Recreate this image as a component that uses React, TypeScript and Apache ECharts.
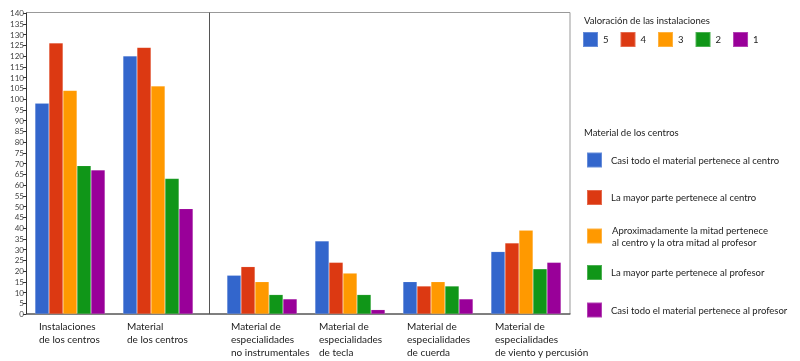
import React, { useEffect, useRef } from "react";
import * as echarts from "echarts";

// ---- Data ----
const centrosCategories = ["Instalaciones\nde los centros", "Material\nde los centros"];
const especialidadesCategories = [
  "Material de\nespecialidades\nno instrumentales",
  "Material de\nespecialidades\nde tecla",
  "Material de\nespecialidades\nde cuerda",
  "Material de\nespecialidades\nde viento y percusión",
];
const valoracionNames = ["5", "4", "3", "2", "1"];
const valoracion5 = [98, 120];
const valoracion4 = [126, 124];
const valoracion3 = [104, 106];
const valoracion2 = [69, 63];
const valoracion1 = [67, 49];

const materialNames = [
  "Casi todo el material pertenece al centro",
  "La mayor parte pertenece al centro",
  "Aproximadamente la mitad pertenece al centro y la otra mitad al profesor",
  "La mayor parte pertenece al profesor",
  "Casi todo el material pertenece al profesor",
];
const materialCasiTodoCentro = [18, 34, 15, 29];
const materialMayorCentro = [22, 24, 13, 33];
const materialMitad = [15, 19, 15, 39];
const materialMayorProfesor = [9, 9, 13, 21];
const materialCasiTodoProfesor = [7, 2, 7, 24];

const yTicks = { min: 0, max: 140, interval: 5 };
const legendTitles = ["Valoración de las instalaciones", "Material de los centros"];

const colors = ["#3366CC", "#DC3912", "#FF9900", "#109618", "#990099"];
const FONT = "Lato";
const FS = 9.5;

export default function App() {
  const ref = useRef<HTMLDivElement>(null);
  useEffect(() => {
    if (!ref.current) return;
    const chart = echarts.init(ref.current, null, { renderer: "svg" });
    const valoracionData = [valoracion5, valoracion4, valoracion3, valoracion2, valoracion1];
    const materialData = [
      materialCasiTodoCentro,
      materialMayorCentro,
      materialMitad,
      materialMayorProfesor,
      materialCasiTodoProfesor,
    ];
    const labelFormatter = (v: string) =>
      v
        .split("\n")
        .map((l) => `{l|${l}}`)
        .join("\n");
    const xLabel = {
      color: "#222",
      fontFamily: FONT,
      fontSize: 10,
      margin: 6,
      interval: 0,
      formatter: labelFormatter,
      rich: { l: { width: 62, align: "left", fontFamily: FONT, fontSize: 10, lineHeight: 12.7, color: "#222" } },
    };
    const series: any[] = [];
    valoracionNames.forEach((n, i) =>
      series.push({
        name: n,
        type: "bar",
        xAxisIndex: 0,
        yAxisIndex: 0,
        barWidth: 14,
        barGap: "0%",
        itemStyle: { color: colors[i], borderColor: "rgba(255,255,255,0.25)", borderWidth: 0.5 },
        data: valoracionData[i],
      })
    );
    materialNames.forEach((n, i) =>
      series.push({
        name: n,
        type: "bar",
        xAxisIndex: 1,
        yAxisIndex: 1,
        barWidth: 14,
        barGap: "0%",
        itemStyle: { color: colors[i], borderColor: "rgba(255,255,255,0.25)", borderWidth: 0.5 },
        data: materialData[i],
      })
    );
    const legends: any[] = [
      {
        data: valoracionNames,
        left: 582,
        top: 31,
        padding: 0,
        orient: "horizontal",
        itemWidth: 15,
        itemHeight: 15,
        itemGap: 11,
        icon: "rect",
        textStyle: { fontFamily: FONT, fontSize: FS, color: "#222", padding: [9, 0, 0, 0] },
      },
    ];
    materialNames.forEach((n, i) => {
      const long = n.length > 50;
      legends.push({
        data: [n],
        left: 586,
        top: 149 + i * 37.5,
        padding: 0,
        itemWidth: 15,
        itemHeight: 15,
        icon: "rect",
        formatter: (name: string) =>
          name.length > 50
            ? "Aproximadamente la mitad pertenece\nal centro y la otra mitad al profesor"
            : name,
        textStyle: {
          fontFamily: FONT,
          fontSize: FS,
          color: "#222",
          lineHeight: 12,
          padding: long ? [0, 0, 0, 5] : [10, 0, 0, 4],
        },
      });
    });
    chart.setOption({
      animation: false,
      textStyle: { fontFamily: FONT },
      title: [
        { text: legendTitles[0], left: 579, top: 10, textStyle: { fontFamily: FONT, fontSize: FS, fontWeight: "normal", color: "#222" } },
        { text: legendTitles[1], left: 579, top: 122, textStyle: { fontFamily: FONT, fontSize: FS, fontWeight: "normal", color: "#222" } },
      ],
      legend: legends,
      grid: [
        { left: 26, top: 13, width: 176, bottom: 47 },
        { left: 218, top: 13, width: 352, bottom: 47 },
      ],
      xAxis: [
        {
          type: "category",
          gridIndex: 0,
          data: centrosCategories,
          axisLine: { show: false },
          axisTick: { show: false },
          axisLabel: xLabel,
        },
        {
          type: "category",
          gridIndex: 1,
          data: especialidadesCategories,
          axisLine: { show: false },
          axisTick: { show: false },
          axisLabel: xLabel,
        },
      ],
      yAxis: [
        {
          type: "value",
          gridIndex: 0,
          min: yTicks.min,
          max: yTicks.max,
          interval: yTicks.interval,
          axisLine: { show: true, lineStyle: { color: "#333" } },
          axisTick: { show: true, length: 3, lineStyle: { color: "#333" } },
          splitLine: { show: false },
          axisLabel: { fontFamily: FONT, fontSize: 8, color: "#444", margin: 2 },
        },
        {
          type: "value",
          gridIndex: 1,
          min: yTicks.min,
          max: yTicks.max,
          interval: yTicks.interval,
          show: false,
          splitLine: { show: false },
        },
      ],
      graphic: [
        { type: "rect", shape: { x: 26.5, y: 12.5, width: 543.5, height: 301.5 }, style: { fill: "none", stroke: "#999", lineWidth: 1 }, silent: true },
        { type: "line", shape: { x1: 26, y1: 314, x2: 570.5, y2: 314 }, style: { stroke: "#333", lineWidth: 1 }, silent: true },
        { type: "line", shape: { x1: 209.5, y1: 12.5, x2: 209.5, y2: 314 }, style: { stroke: "#555", lineWidth: 1 }, silent: true },
      ],
      series,
    });
    return () => chart.dispose();
  }, []);
  return <div ref={ref} style={{ position: "fixed", left: 0, top: 0, width: 800, height: 361 }} />;
}
